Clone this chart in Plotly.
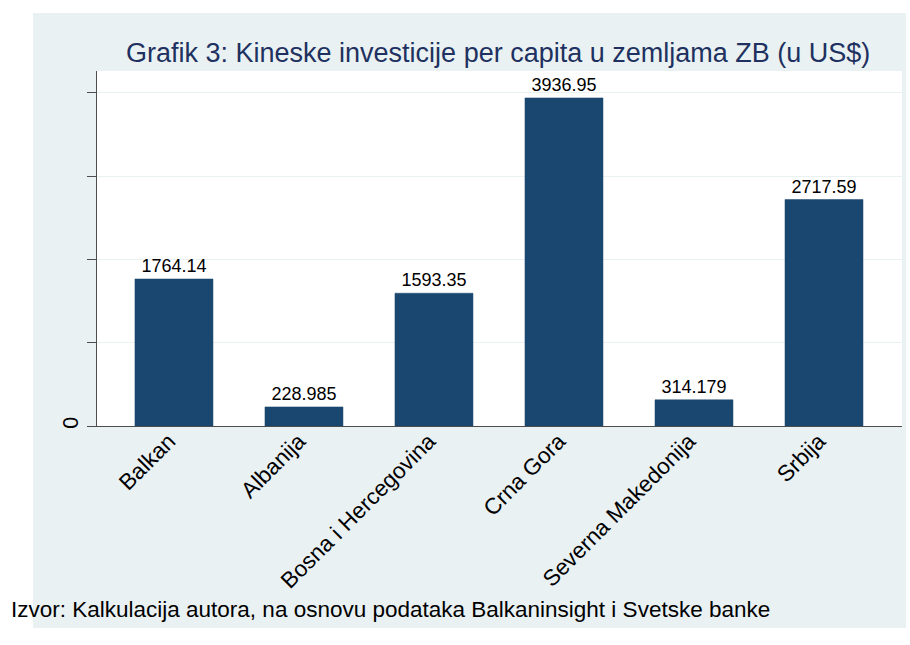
import plotly.graph_objects as go

categories = ["Balkan", "Albanija", "Bosna i Hercegovina", "Crna Gora", "Severna Makedonija", "Srbija"]
values = [1764.14, 228.985, 1593.35, 3936.95, 314.179, 2717.59]
y_tickvals = [0, 1000, 2000, 3000, 4000]
y_ticktext = ["0", "", "", "", ""]

title_text = "Grafik 3: Kineske investicije per capita u zemljama ZB (u US$)"
source_text = "Izvor: Kalkulacija autora, na osnovu podataka Balkaninsight i Svetske banke"

FONT = "Arial, 'Liberation Sans', sans-serif"
BAR = "#1a476f"
PANEL = "#eaf1f3"
AXIS = "#4d4d4d"

W, H = 910, 645
L, R, T, B = 97, 8, 71, 219
PW, PH = W - L - R, H - T - B

def px_x(x):
    return (x - L) / PW

def px_y(y):
    return (H - B - y) / PH

fig = go.Figure()
fig.add_trace(go.Bar(
    x=categories,
    y=values,
    width=0.6,
    marker=dict(color=BAR, line=dict(color=BAR, width=0.5)),
    text=[f"{v:g}" for v in values],
    textposition="outside",
    textfont=dict(family=FONT, size=18, color="black"),
    cliponaxis=False,
    hoverinfo="x+y",
))

fig.update_layout(
    width=W, height=H,
    margin=dict(l=L, r=R, t=T, b=B, pad=0),
    paper_bgcolor="white",
    plot_bgcolor="white",
    showlegend=False,
    font=dict(family=FONT, color="black"),
    xaxis=dict(
        type="category",
        range=[-0.592, 5.6],
        showline=True, linecolor=AXIS, linewidth=1.3,
        ticks="", tickangle=-45,
        ticklabelstandoff=-8,
        ticklabelshift=-5,
        tickfont=dict(family=FONT, size=22.5, color="black"),
        showgrid=False, zeroline=False,
    ),
    yaxis=dict(
        range=[0, 4260],
        tickvals=y_tickvals, ticktext=y_ticktext,
        showline=True, linecolor=AXIS, linewidth=1.3,
        ticks="outside", ticklen=9, tickcolor=AXIS, tickwidth=1.3,
        tickangle=-90,
        tickfont=dict(family=FONT, size=21.5, color="black"),
        showgrid=True, gridcolor=PANEL, gridwidth=1.2,
        zeroline=False,
    ),
    shapes=[
        dict(type="rect", xref="paper", yref="paper",
             x0=px_x(33), x1=px_x(906), y0=px_y(628), y1=px_y(13),
             fillcolor=PANEL, line=dict(width=0), layer="below"),
        dict(type="rect", xref="paper", yref="paper",
             x0=0, x1=1, y0=0, y1=1,
             fillcolor="white", line=dict(width=0), layer="below"),
    ],
    annotations=[
        dict(text=title_text, xref="paper", yref="paper",
             x=px_x(498), y=px_y(53), xanchor="center", yanchor="middle",
             showarrow=False, font=dict(family=FONT, size=27, color="#1e3160")),
        dict(text=source_text, xref="paper", yref="paper",
             x=px_x(9), y=px_y(609), xanchor="left", yanchor="middle",
             showarrow=False, font=dict(family=FONT, size=22.5, color="black")),
    ],
)

fig.write_html("out.html", config={"displayModeBar": False},
               post_script="document.body.style.margin='0px';")
